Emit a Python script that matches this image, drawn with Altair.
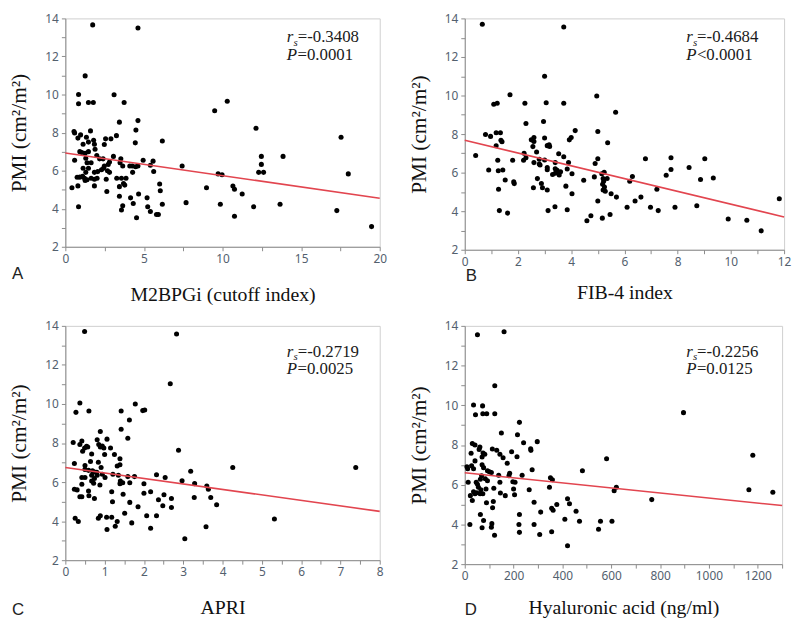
import altair as alt
import pandas as pd

SERIF = "Liberation Serif"
SANS = "Noto Sans"
LETTER_FONT = "Liberation Sans"

y_major = [2, 4, 6, 8, 10, 12, 14]
y_minor = [3, 5, 7, 9, 11, 13]
y_title = "PMI (cm²/m²)"

# ---------------- Panel A: M2BPGi ----------------
a_x = [1.74, 4.62, 1.26, 0.84, 0.84, 1.47, 1.78, 3.10, 3.74, 3.44, 4.62, 4.49, 4.45, 6.17, 3.25,
       0.55, 0.59, 0.97, 0.80, 1.13, 1.34, 1.60, 1.47, 1.80, 1.85, 2.56, 2.90, 2.48, 1.89, 0.92,
       1.47, 1.26, 1.30, 2.00, 2.18, 0.59, 1.38, 1.64, 2.40, 3.06, 3.53, 3.48, 2.81, 2.73, 2.48,
       3.65, 4.10, 4.26, 4.47, 4.62, 4.95, 5.58, 5.41, 5.62, 1.13, 1.47, 2.43, 2.68, 2.81, 1.85,
       2.06, 1.30, 4.28, 0.92, 1.22, 1.38, 1.64, 1.85, 2.02, 1.26, 2.60, 3.27, 3.57, 3.86, 3.44,
       3.78, 3.70, 1.85, 0.80, 0.42, 2.64, 6.00, 6.04, 3.44, 4.15, 4.66, 5.20, 4.32, 3.57, 3.65,
       0.84, 6.17, 5.24, 5.41, 5.80, 5.92, 4.53, 7.68, 7.43, 8.98, 9.50, 10.30, 9.72, 9.97, 9.86,
       10.66, 10.76, 10.76, 11.25, 11.98, 12.13, 12.47, 12.47, 12.30, 12.61, 13.85, 13.66, 17.27,
       17.54, 18.00, 19.48, 0.75, 1.10, 2.30, 1.05]
a_y = [13.66, 13.50, 10.98, 10.00, 9.52, 9.58, 9.58, 9.99, 9.58, 8.55, 8.63, 8.13, 7.46, 7.56, 7.84,
       8.06, 7.98, 7.88, 7.71, 7.39, 7.76, 8.09, 7.50, 7.60, 7.39, 7.67, 7.67, 7.37, 7.12, 7.00,
       7.00, 6.92, 6.65, 6.80, 6.62, 6.55, 6.42, 6.42, 6.62, 6.75, 6.62, 6.42, 6.45, 6.33, 6.25,
       6.25, 6.25, 6.25, 6.20, 6.25, 6.55, 6.50, 6.28, 5.96, 6.13, 6.13, 6.13, 6.00, 5.91, 5.91,
       5.95, 5.91, 5.91, 5.66, 5.60, 5.52, 5.60, 5.55, 5.60, 5.48, 5.55, 5.60, 5.60, 5.60, 5.16,
       5.24, 5.33, 5.20, 5.20, 5.10, 4.90, 5.30, 4.94, 4.65, 4.57, 4.77, 4.57, 4.27, 3.93, 4.15,
       4.10, 4.23, 4.10, 3.85, 3.70, 3.70, 3.53, 4.32, 6.25, 5.10, 9.15, 9.65, 5.83, 5.78, 4.23,
       5.19, 5.02, 3.60, 4.77, 4.10, 8.23, 6.75, 6.33, 5.91, 5.91, 6.75, 4.23, 3.90,
       7.76, 5.83, 3.06, 5.65, 5.70, 6.05, 6.95]
a_fit_x = [0, 20]
a_fit_y = [6.93, 4.55]

# ---------------- Panel B: FIB-4 ----------------
b_x = [0.66, 3.72, 3.00, 1.70, 1.09, 1.22, 2.26, 3.06, 3.72, 4.96, 5.67, 2.30, 2.96, 0.78, 0.97,
       1.18, 1.34, 1.36, 1.40, 1.18, 2.50, 2.60, 2.60, 3.00, 3.10, 3.17, 3.19, 3.93, 4.00, 4.15,
       5.00, 5.37, 2.56, 2.70, 2.23, 2.30, 3.53, 3.72, 0.41, 5.00, 6.79, 7.75, 9.02, 1.24, 1.80,
       2.21, 2.60, 2.80, 2.80, 2.83, 3.00, 3.10, 3.10, 3.40, 3.40, 3.47, 3.52, 3.60, 3.55, 3.30,
       3.40, 3.90, 3.85, 4.03, 4.90, 5.15, 5.24, 5.20, 5.22, 5.18, 5.25, 5.20, 5.28, 5.35, 4.87,
       6.20, 6.30, 7.22, 7.57, 7.75, 8.43, 8.86, 9.34, 0.90, 1.43, 1.52, 1.26, 1.27, 1.84, 1.86,
       2.58, 2.73, 2.88, 2.92, 3.10, 3.80, 4.03, 4.47, 5.00, 5.50, 5.70, 6.40, 6.62, 6.98, 7.27,
       7.90, 8.72, 6.10, 3.39, 3.13, 3.85, 1.30, 1.61, 4.59, 4.74, 5.17, 5.46, 9.90, 10.60,
       11.14, 11.82]
b_y = [13.70, 13.55, 11.00, 10.04, 9.55, 9.60, 9.60, 9.63, 9.60, 9.98, 9.13, 8.55, 8.65, 7.98, 7.88,
       8.07, 8.07, 7.68, 7.60, 7.39, 7.70, 7.82, 7.62, 7.80, 7.40, 7.45, 7.36, 7.70, 7.82, 8.18,
       8.13, 7.55, 7.35, 7.07, 7.00, 6.77, 6.98, 6.82, 6.89, 6.72, 6.72, 6.77, 6.72, 6.64, 6.64,
       6.64, 6.52, 6.69, 6.45, 6.40, 6.66, 6.27, 6.15, 6.52, 6.20, 6.12, 6.02, 6.05, 5.88, 5.90,
       5.97, 6.52, 6.19, 5.94, 6.47, 5.94, 6.02, 5.70, 5.55, 5.40, 5.25, 5.10, 5.03, 5.70, 5.78,
       5.55, 5.80, 5.14, 5.86, 6.16, 6.27, 5.64, 5.72, 6.14, 6.14, 5.62, 6.10, 5.14, 5.52, 5.43,
       5.22, 5.69, 5.44, 5.22, 5.10, 5.30, 4.90, 5.60, 4.53, 4.90, 4.73, 4.53, 4.73, 4.20, 4.03,
       4.20, 4.28, 4.20, 4.23, 4.03, 4.08, 4.03, 3.90, 3.50, 3.76, 3.64, 3.83, 3.60, 3.53,
       2.98, 4.64]
b_fit_x = [0, 12]
b_fit_y = [7.68, 3.70]

# ---------------- Panel C: APRI ----------------
c_x = [0.49, 2.83, 2.67, 0.37, 0.27, 0.60, 1.42, 1.78, 1.97, 2.02, 1.63, 1.42, 1.59, 0.89, 0.20,
       0.42, 0.37, 0.49, 0.44, 0.54, 0.57, 0.81, 1.06, 0.85, 0.89, 0.94, 0.98, 1.00, 1.15, 1.25,
       0.67, 1.39, 0.23, 0.50, 0.64, 0.84, 0.91, 1.32, 1.39, 0.50, 0.59, 0.69, 0.74, 0.80, 0.42,
       0.50, 0.67, 0.81, 0.94, 1.21, 1.35, 1.59, 1.76, 2.32, 2.54, 1.01, 0.74, 0.67, 0.72, 0.88,
       0.42, 0.23, 0.30, 0.37, 0.42, 0.60, 0.74, 0.59, 1.40, 1.39, 1.46, 1.64, 1.18, 1.20, 1.47,
       1.64, 1.85, 2.00, 2.00, 2.17, 2.07, 2.32, 2.37, 2.48, 2.51, 2.70, 2.70, 2.88, 2.97, 3.19,
       3.29, 3.28, 2.17, 3.04, 3.58, 3.60, 3.64, 3.70, 3.85, 4.26, 5.32, 7.39, 1.05, 0.84, 0.89,
       1.06, 1.18, 1.27, 1.32, 1.51, 1.69, 0.25, 0.33]
c_y = [13.71, 13.58, 11.04, 10.05, 9.57, 9.64, 9.64, 10.00, 9.66, 9.69, 9.18, 8.71, 8.25, 8.59, 8.03,
       8.10, 7.92, 7.75, 7.58, 7.83, 7.80, 8.17, 8.20, 7.92, 7.80, 7.85, 7.75, 7.41, 7.75, 7.41,
       7.44, 7.19, 6.95, 6.85, 7.05, 7.02, 6.75, 6.82, 6.89, 6.65, 6.60, 6.58, 6.52, 6.50, 6.23,
       6.23, 6.35, 6.35, 6.40, 6.40, 6.35, 6.28, 6.28, 6.38, 6.23, 6.23, 6.18, 6.06, 5.94, 5.85,
       5.89, 5.63, 5.60, 5.25, 5.25, 5.30, 5.16, 5.54, 6.06, 5.92, 5.97, 5.97, 5.50, 4.99, 5.38,
       4.96, 4.74, 5.91, 5.43, 5.50, 4.28, 4.28, 5.09, 4.79, 5.35, 4.70, 5.16, 7.63, 6.07, 6.56,
       5.92, 5.21, 3.64, 3.10, 3.71, 5.80, 5.63, 5.21, 4.84, 6.75, 4.11, 6.75, 4.20, 4.15, 4.28,
       3.57, 4.20, 3.74, 3.98, 4.40, 3.91, 4.15, 3.98]
c_fit_x = [0, 8]
c_fit_y = [6.75, 4.50]

# ---------------- Panel D: Hyaluronic acid ----------------
d_x = [52, 161, 123, 36, 73, 44, 74, 90, 123, 224, 150, 216, 241, 297, 270, 271, 31, 42, 62, 59,
       26, 75, 82, 113, 131, 144, 157, 192, 214, 174, 71, 42, 9, 28, 36, 71, 77, 93, 109, 101,
       14, 12, 47, 52, 64, 69, 84, 93, 56, 66, 36, 42, 23, 31, 49, 63, 74, 87, 119, 144,
       139, 184, 181, 197, 206, 235, 276, 351, 359, 482, 581, 166, 200, 204, 146, 117, 114, 89, 64, 77,
       21, 71, 111, 109, 122, 224, 222, 224, 264, 284, 284, 311, 307, 347, 356, 362, 356, 377, 410, 421,
       429, 421, 456, 470, 548, 556, 603, 612, 621, 766, 896, 1164, 1180, 1262]
d_y = [13.55, 13.70, 10.98, 10.02, 9.97, 9.52, 9.57, 9.57, 9.57, 9.14, 8.60, 8.52, 8.11, 8.17, 7.81,
       7.73, 8.07, 8.00, 7.90, 7.78, 7.58, 7.60, 7.53, 7.80, 7.74, 7.53, 7.36, 7.66, 7.41, 7.08,
       7.40, 7.20, 6.90, 6.95, 6.80, 7.00, 6.86, 6.70, 6.61, 6.65, 6.12, 6.80, 6.12, 6.02, 6.28,
       6.45, 6.30, 6.20, 5.87, 5.75, 5.65, 5.54, 5.45, 5.20, 5.60, 5.55, 5.54, 5.78, 5.82, 6.12,
       6.48, 6.58, 6.45, 6.15, 6.12, 6.48, 6.75, 6.35, 6.25, 6.70, 7.31, 5.45, 5.78, 5.50, 5.58,
       5.15, 4.84, 5.09, 4.50, 4.20, 4.00, 3.83, 4.04, 3.86, 3.46, 4.50, 4.00, 3.60, 5.75, 5.12,
       4.00, 4.62, 3.49, 5.87, 4.82, 4.71, 3.63, 5.00, 4.26, 5.29, 5.04, 2.93, 4.66, 4.16, 3.76,
       4.16, 4.16, 5.70, 5.87, 5.25, 9.63, 5.75, 7.48, 5.62]
d_fit_x = [0, 1300]
d_fit_y = [6.60, 4.95]

panel_letters = ["A", "B", "C", "D"]
x_titles = ["M2BPGi (cutoff index)", "FIB-4 index", "APRI", "Hyaluronic acid (ng/ml)"]
rs_values = ["=-0.3408", "=-0.4684", "=-0.2719", "=-0.2256"]
p_values = ["=0.0001", "<0.0001", "=0.0025", "=0.0125"]


def label_expr(major):
    arr = "[" + ",".join(str(v) for v in major) + "]"
    return f"indexof({arr}, datum.value) >= 0 ? format(datum.value, 'd') : ''"


def text_layer(s, x, y, size, style="normal", font=SERIF, baseline="alphabetic", color="#1a1a1a"):
    return alt.Chart(pd.DataFrame({"t": [s]})).mark_text(
        font=font, fontSize=size, fontStyle=style, align="left", baseline=baseline, color=color
    ).encode(text="t:N", x=alt.value(x), y=alt.value(y))


def panel(xs, ys, fx, fy, xdom, xmajor, xminor, idx, tpad, lx, ly, sy, w, h):
    x_enc = alt.X("x:Q", scale=alt.Scale(domain=xdom, nice=False, zero=False),
                  axis=alt.Axis(values=sorted(xmajor + xminor), labelExpr=label_expr(xmajor),
                                tickCount=100, title=x_titles[idx], titlePadding=tpad,
                                labelFlush=False, labelOverlap=False))
    y_enc = alt.Y("y:Q", scale=alt.Scale(domain=[2, 14], nice=False, zero=False),
                  axis=alt.Axis(values=sorted(y_major + y_minor), labelExpr=label_expr(y_major),
                                tickCount=100, title=y_title, titlePadding=11, titleFontSize=21.5,
                                minExtent=24, maxExtent=24, labelOverlap=False))
    pts = alt.Chart(pd.DataFrame({"x": xs, "y": ys})).mark_circle(
        size=26, color="black", opacity=1).encode(x=x_enc, y=y_enc)
    fit = alt.Chart(pd.DataFrame({"x": fx, "y": fy})).mark_line(
        color="#e2454f", strokeWidth=1.6).encode(x="x:Q", y="y:Q")
    sx = 224
    texts = [
        text_layer("r", sx, sy, 17, "italic"),
        text_layer("s", sx + 6.8, sy + 4, 11, "italic"),
        text_layer(rs_values[idx], sx + 11, sy, 17),
        text_layer("P", sx, sy + 18, 17, "italic"),
        text_layer(p_values[idx], sx + 10.8, sy + 18, 17),
        text_layer(panel_letters[idx], lx, ly, 17, font=LETTER_FONT, baseline="middle", color="#222"),
    ]
    return alt.layer(pts, fit, *texts).properties(width=w, height=h)


hA, hB, hC, hD = 231, 234, 237, 241
pA = panel(a_x, a_y, a_fit_x, a_fit_y, [0, 20], [0, 5, 10, 15, 20], [2.5, 7.5, 12.5, 17.5],
           0, 20, -54, hA + 28, 24, 318, hA)
pB = panel(b_x, b_y, b_fit_x, b_fit_y, [0, 12], [0, 2, 4, 6, 8, 10, 12], [1, 3, 5, 7, 9, 11],
           1, 15, 1, hB + 27, 24, 323, hB)
pC = panel(c_x, c_y, c_fit_x, c_fit_y, [0, 8], [0, 1, 2, 3, 4, 5, 6, 7, 8],
           [0.5, 1.5, 2.5, 3.5, 4.5, 5.5, 6.5, 7.5], 2, 20, -54, hC + 50, 31, 318, hC)
pD = panel(d_x, d_y, d_fit_x, d_fit_y, [0, 1300], [0, 200, 400, 600, 800, 1000, 1200],
           [100, 300, 500, 700, 900, 1100, 1300], 3, 16, 0, hD + 46, 31, 321, hD)

chart = alt.concat(
    pA, pB, pC, pD, columns=2, bounds="flush",
    spacing=alt.RowColnumber(row=77, column=86)
).properties(
    padding=0
).configure_view(
    stroke="#cfcfcf", strokeWidth=1
).configure_axis(
    domainColor="#8c8c8c", tickColor="#8c8c8c", tickSize=4, grid=False,
    labelColor="#53606e", labelFont=SANS, labelFontSize=12, labelPadding=3,
    titleFont=SERIF, titleFontSize=20, titleFontWeight="normal", titleColor="#111111"
)

chart.save("out.html", embed_options={"renderer": "svg", "actions": False})
